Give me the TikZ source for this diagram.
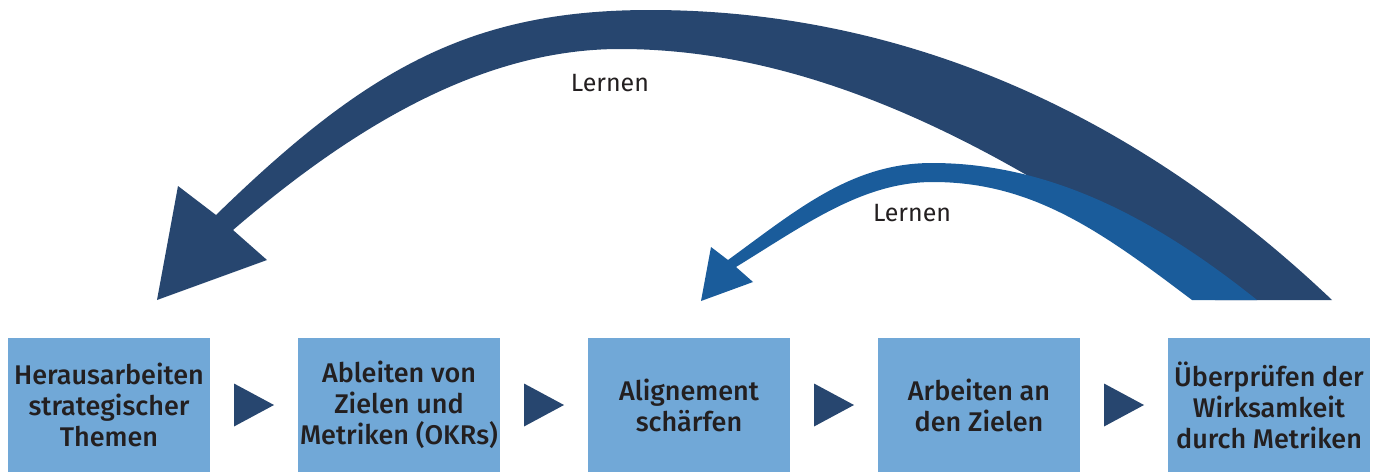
\documentclass[tikz,border=0pt]{standalone}
\usepackage{fontspec}
\setmainfont{Fira Sans}
\newfontfamily\boxfont{Fira Sans Medium}
\usetikzlibrary{positioning,calc}
\definecolor{navy}{HTML}{27466F}
\definecolor{midblue}{HTML}{1A5C9B}
\definecolor{boxblue}{HTML}{71A8D7}
\definecolor{ink}{HTML}{231F20}

\begin{document}
\begin{tikzpicture}[x=1pt, y=-1pt, node distance=290pt, text=ink,
  phase node/.style={rectangle, fill=boxblue, minimum width=202pt, minimum height=134pt, inner sep=0pt, align=center, font=\boxfont\fontsize{27}{31}\selectfont},
  loop label/.style={anchor=base, font=\fontsize{25}{30}\selectfont}]

\useasboundingbox (0,0) rectangle (1375,472);

\node[phase node] (1) at (109,405) {Herausarbeiten\\strategischer\\Themen};
\node[phase node] (2) [right of=1] {Ableiten von\\Zielen und\\Metriken (OKRs)};
\node[phase node] (3) [right of=2] {Alignement\\schärfen};
\node[phase node] (4) [right of=3] {Arbeiten an\\den Zielen};
\node[phase node] (5) [right of=4] {Überprüfen der\\Wirksamkeit\\durch Metriken};

\foreach \a/\b in {1/2,2/3,3/4,4/5}
  \fill[navy] ($(\a.east)!0.5!(\b.west)$) ++(-20,-21.5) -- ++(40,21.5) -- ++(-40,21.5) -- cycle;

% grosse Schleife
\fill[navy] (157,300) -- (267,260) -- (233,230)
  .. controls (363,118) and (490,49) .. (620,49)
  .. controls (820,49) and (1015,152) .. (1215,300)
  -- (1332,300)
  .. controls (1132,110) and (900,10) .. (650,10)
  .. controls (470,10) and (366,69) .. (216,215)
  -- (178,186) -- cycle;

% kleine Schleife
\fill[midblue] (701,301) -- (753,282) -- (736,267)
  .. controls (806,224) and (863,182) .. (933,182)
  .. controls (1033,182) and (1102,232) .. (1192,300)
  -- (1257,300)
  .. controls (1157,220) and (1052,163) .. (932,163)
  .. controls (852,163) and (798,209) .. (728,260)
  -- (711,247) -- cycle;

\node[loop label] (big) at (610,91) {Lernen};
\node[loop label] (small) at (912,221) {Lernen};

\end{tikzpicture}
\end{document}
